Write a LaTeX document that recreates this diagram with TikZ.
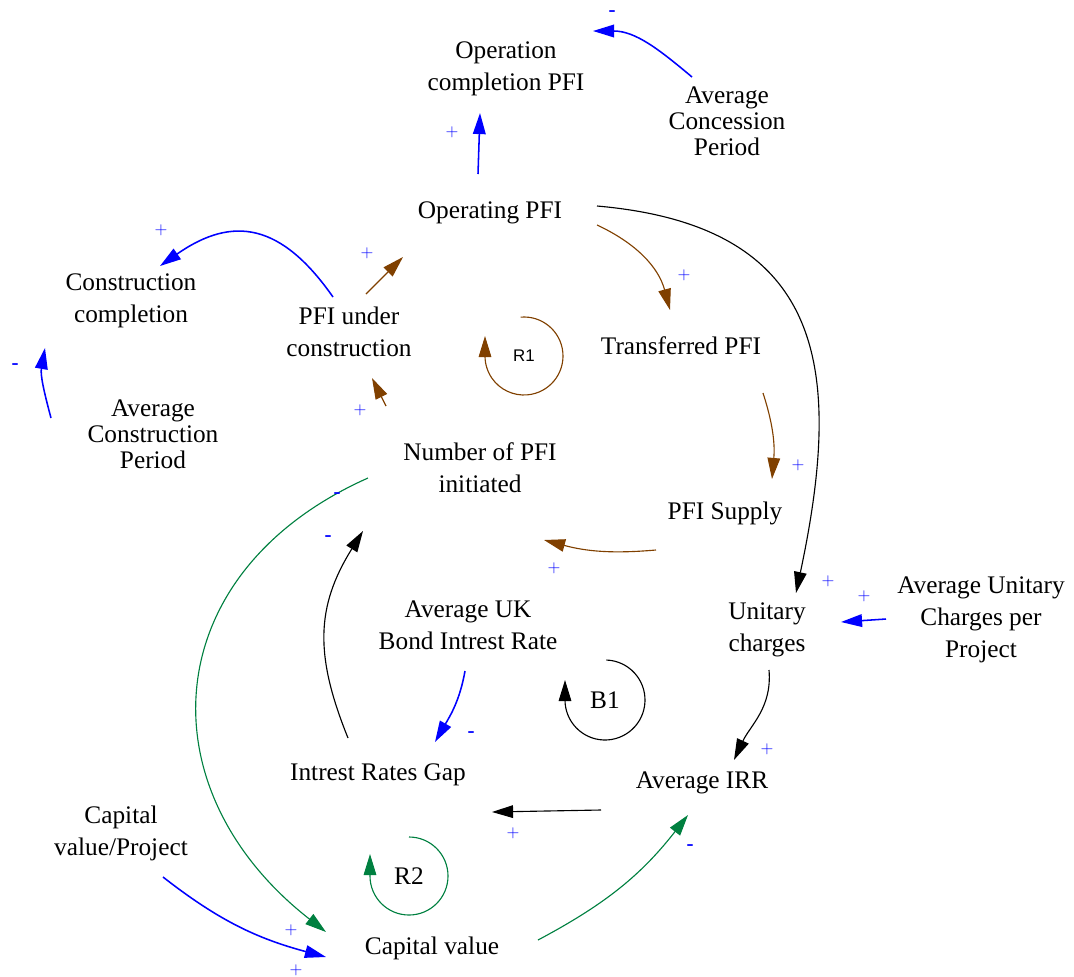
\documentclass[tikz,border=0pt]{standalone}
\usepackage{fontspec}
\setmainfont{Liberation Serif}
\newfontfamily\loopfont{Liberation Sans}
\usetikzlibrary{arrows.meta}

\definecolor{linkbrown}{RGB}{128,64,0}
\definecolor{linkgreen}{RGB}{0,128,64}

\tikzset{
  varnode/.style={align=center, inner sep=1pt, font=\fontsize{18}{22.7}\selectfont},
  varnodetight/.style={varnode, font=\fontsize{18}{18.4}\selectfont},
  causal/.style={-{Triangle[length=15pt,width=9pt]}, line width=0.8pt},
  bluecausal/.style={causal, blue, line width=1.1pt},
  browncausal/.style={causal, linkbrown},
  blackcausal/.style={causal, black},
  greencausal/.style={causal, linkgreen},
  polplus/.style={text=blue, inner sep=0pt, font=\fontsize{12}{12}\selectfont},
  polminus/.style={text=blue, inner sep=0pt, font=\loopfont\fontsize{16}{16}\selectfont},
  loopname/.style={inner sep=0pt, font=\fontsize{18}{18}\selectfont},
}

\begin{document}
\begin{tikzpicture}[x=0.025cm, y=0.025cm]
  \useasboundingbox (0,0) rectangle (1074,-976);

  % Variables
  \node[varnode] (opcomp) at (506,-69) {Operation\\completion PFI};
  \node[varnodetight] (avgconc) at (727,-121) {Average\\Concession\\Period};
  \node[varnode] (operating) at (490,-213) {Operating PFI};
  \node[varnode] (constcomp) at (131,-301) {Construction\\completion};
  \node[varnode] (underconst) at (349,-332) {PFI under\\construction};
  \node[varnode] (transferred) at (681,-346) {Transferred PFI};
  \node[varnodetight] (avgconstper) at (153,-434) {Average\\Construction\\Period};
  \node[varnode] (initiated) at (480,-468) {Number of PFI\\initiated};
  \node[varnode] (supply) at (725,-513) {PFI Supply};
  \node[varnode] (avgUK) at (468,-625) {Average UK\\Bond Intrest Rate};
  \node[varnode] (unitary) at (767,-630) {Unitary\\charges};
  \node[varnode] (avgunit) at (981,-620) {Average Unitary\\Charges per\\Project};
  \node[varnode] (gap) at (378,-775) {Intrest Rates Gap};
  \node[varnode] (irr) at (702,-783) {Average IRR};
  \node[varnode] (capproj) at (121,-833) {Capital\\value/Project};
  \node[varnode] (capval) at (432,-948) {Capital value};

  % Loops
  \node[loopname, font=\loopfont\fontsize{12}{12}\selectfont] (r1) at (524,-356) {R1};
  \node[loopname] (b1) at (605,-700) {B1};
  \node[loopname] (r2) at (409,-876) {R2};
  \draw[browncausal] ([shift={(95:39)}]r1.center) arc[start angle=95, end angle=-180, radius=39] -- ++(0,20);
  \draw[blackcausal] ([shift={(88:40)}]b1.center) arc[start angle=88, end angle=-180, radius=40] -- ++(0,20);
  \draw[greencausal] ([shift={(90:39)}]r2.center) arc[start angle=90, end angle=-180, radius=39] -- ++(0,22);

  % Links
  \draw[bluecausal] ([shift={(-12,39)}]operating.center) -- ([shift={(-26,-44)}]opcomp.center); % operating -> completion
  \draw[bluecausal] ([shift={(-35,44)}]avgconc.center) to[out=140, in=0] ([shift={(87,38)}]opcomp.center); % concession
  \draw[bluecausal] ([shift={(-16,35)}]underconst.center) to[out=125, in=35, looseness=1.3] ([shift={(29,35)}]constcomp.center);
  \draw[bluecausal] ([shift={(-102,16)}]avgconstper.center) to[out=105, in=-100] ([shift={(-86,-47)}]constcomp.center);
  \draw[browncausal] ([shift={(17,38)}]underconst.center) -- ([shift={(-87,-44)}]operating.center);
  \draw[browncausal] ([shift={(-94,62)}]initiated.center) -- ([shift={(23,-46)}]underconst.center);
  \draw[browncausal] ([shift={(107,-12)}]operating.center) to[out=-25, in=105] ([shift={(-11,36)}]transferred.center);
  \draw[browncausal] ([shift={(82,-47)}]transferred.center) to[out=-72, in=85] ([shift={(47,34)}]supply.center);
  \draw[browncausal] ([shift={(-69,-37)}]supply.center) to[out=185, in=-15] ([shift={(64,-72)}]initiated.center);
  \draw[blackcausal] ([shift={(107,7)}]operating.center) to[out=-5, in=78, looseness=1.35] ([shift={(29,37)}]unitary.center); % big arc
  \draw[bluecausal] ([shift={(-95,1)}]avgunit.center) -- ([shift={(74,8)}]unitary.center);
  \draw[blackcausal] ([shift={(2,-40)}]unitary.center) to[out=-85, in=65] ([shift={(32,23)}]irr.center);
  \draw[blackcausal] ([shift={(-101,-27)}]irr.center) -- ([shift={(114,-37)}]gap.center);
  \draw[blackcausal] ([shift={(-30,37)}]gap.center) to[out=112, in=-122, looseness=1.1] ([shift={(-117,-63)}]initiated.center);
  \draw[bluecausal] ([shift={(-3,-46)}]avgUK.center) to[out=-100, in=60] ([shift={(57,33)}]gap.center);
  \draw[greencausal] ([shift={(-112,-10)}]initiated.center) to[out=204, in=142, looseness=1.3] ([shift={(-106,16)}]capval.center);
  \draw[greencausal] ([shift={(106,8)}]capval.center) to[out=28, in=-128] ([shift={(-14,-32)}]irr.center);
  \draw[bluecausal] ([shift={(42,-44)}]capproj.center) to[out=-38, in=165] ([shift={(-106,-9)}]capval.center);

  % Polarities
  \node[polplus] (p1) at (452,-132) {$+$};
  \node[polminus] (m2) at (612,-14) {-};
  \node[polplus] (p3) at (161,-230) {$+$};
  \node[polminus] (m4) at (15,-367) {-};
  \node[polplus] (p5) at (367,-253) {$+$};
  \node[polplus] (p6) at (360,-410) {$+$};
  \node[polplus] (p7) at (684,-275) {$+$};
  \node[polplus] (p8) at (798,-465) {$+$};
  \node[polplus] (p9) at (554,-568) {$+$};
  \node[polplus] (p10) at (828,-581) {$+$};
  \node[polplus] (p11) at (864,-596) {$+$};
  \node[polplus] (p12) at (767,-749) {$+$};
  \node[polplus] (p13) at (513,-833) {$+$};
  \node[polminus] (m14) at (328,-539) {-};
  \node[polminus] (m15) at (471,-735) {-};
  \node[polminus] (m16) at (337,-496) {-};
  \node[polminus] (m17) at (690,-848) {-};
  \node[polplus] (p18) at (291,-930) {$+$};
  \node[polplus] (p19) at (296,-970) {$+$};
\end{tikzpicture}
\end{document}
